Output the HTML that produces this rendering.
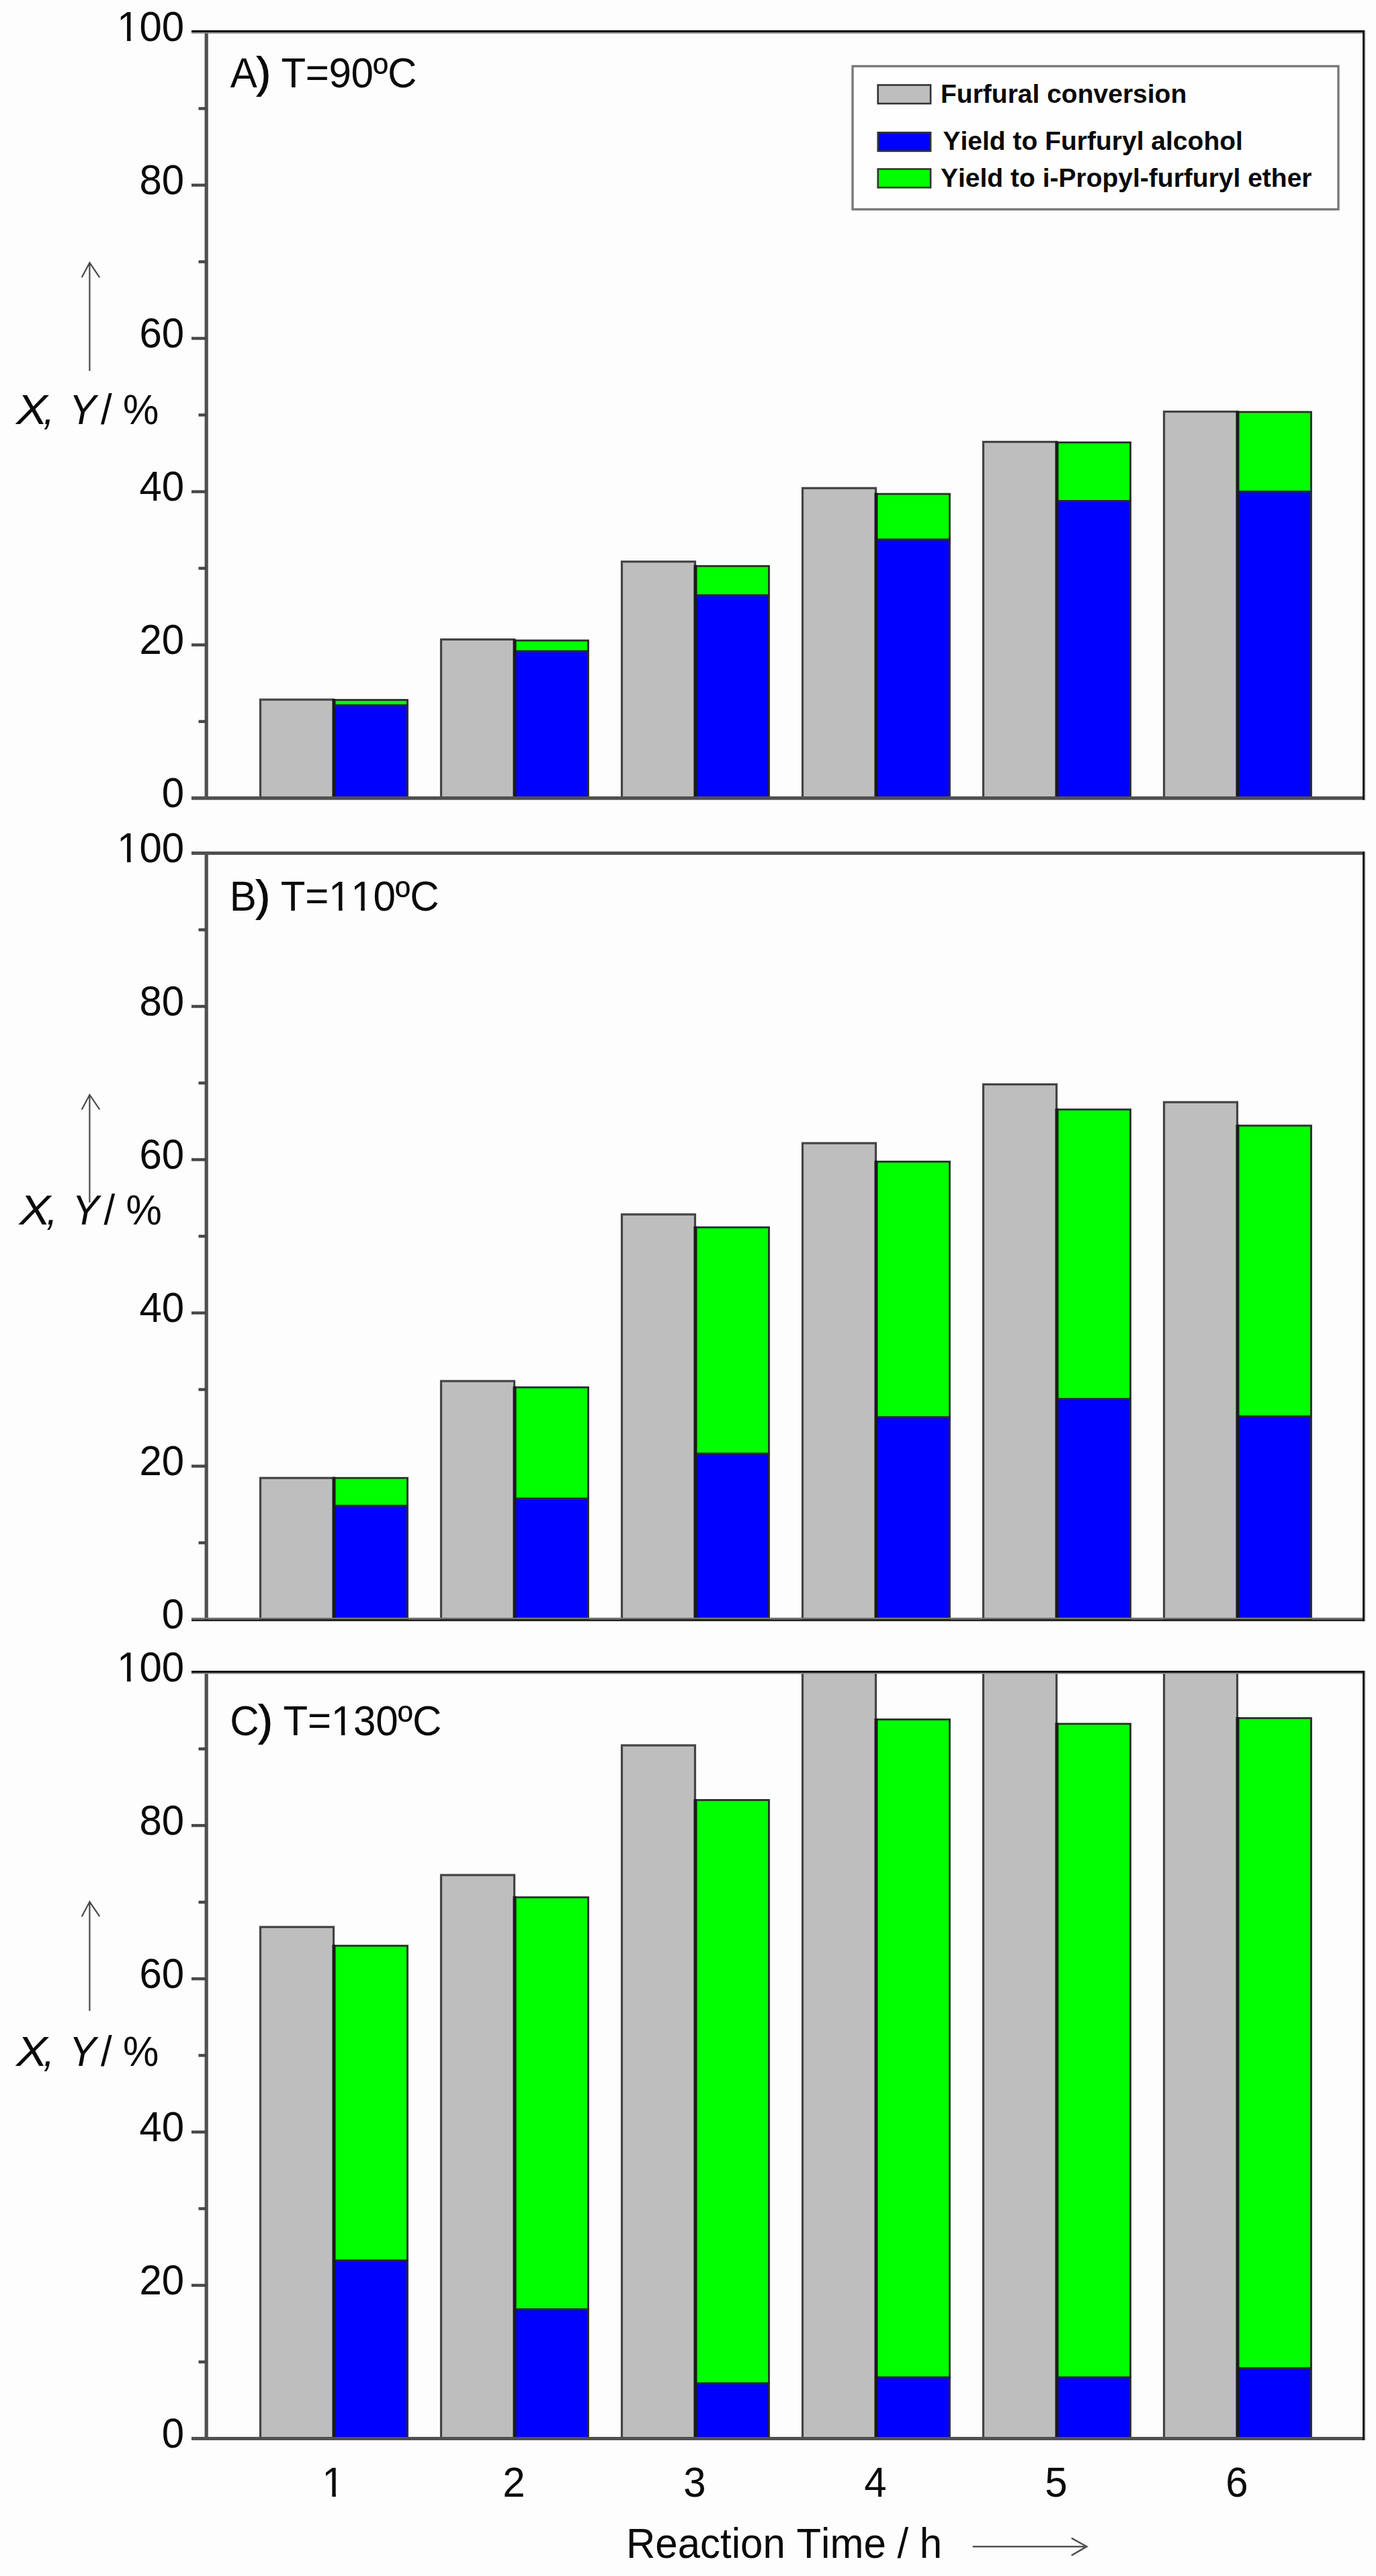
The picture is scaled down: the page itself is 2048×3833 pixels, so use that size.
<!DOCTYPE html>
<html lang="en"><head><meta charset="utf-8"><title>Furfural conversion and yields</title>
<style>html,body{margin:0;padding:0;background:#fdfdfd}svg{display:block}text{font-family:"Liberation Sans",Arial,sans-serif;fill:#0a0a0a;font-kerning:none}.t{font-size:60px}.lg{font-size:39px;font-weight:bold}</style></head><body>
<svg width="2048" height="3833" viewBox="0 0 2048 3833">
<rect width="2048" height="3833" fill="#fdfdfd"/>
<g id="panelA">
<clipPath id="cp0"><rect x="307.2" y="47.5" width="1722.8" height="1143.1"/></clipPath>
<g clip-path="url(#cp0)" stroke="#2b2b2b" stroke-width="2.8">
<rect x="387.5" y="1041.0" width="109.0" height="146.6" fill="#bebebe" stroke="#444" stroke-width="3.2"/>
<rect x="497.5" y="1041.5" width="109.0" height="8.0" fill="#00ff00"/>
<rect x="497.5" y="1049.5" width="109.0" height="138.1" fill="#0000ff"/>
<line x1="497.0" y1="1040.0" x2="497.0" y2="1187.6" stroke="#1a1a1a" stroke-width="5"/>
<rect x="656.5" y="951.5" width="109.0" height="236.1" fill="#bebebe" stroke="#444" stroke-width="3.2"/>
<rect x="766.5" y="953.0" width="109.0" height="16.1" fill="#00ff00"/>
<rect x="766.5" y="969.1" width="109.0" height="218.5" fill="#0000ff"/>
<line x1="766.0" y1="951.5" x2="766.0" y2="1187.6" stroke="#1a1a1a" stroke-width="5"/>
<rect x="925.5" y="835.7" width="109.0" height="351.9" fill="#bebebe" stroke="#444" stroke-width="3.2"/>
<rect x="1035.5" y="842.3" width="109.0" height="43.6" fill="#00ff00"/>
<rect x="1035.5" y="885.9" width="109.0" height="301.7" fill="#0000ff"/>
<line x1="1035.0" y1="840.8" x2="1035.0" y2="1187.6" stroke="#1a1a1a" stroke-width="5"/>
<rect x="1194.5" y="726.3" width="109.0" height="461.3" fill="#bebebe" stroke="#444" stroke-width="3.2"/>
<rect x="1304.5" y="735.0" width="109.0" height="68.0" fill="#00ff00"/>
<rect x="1304.5" y="803.0" width="109.0" height="384.6" fill="#0000ff"/>
<line x1="1304.0" y1="733.5" x2="1304.0" y2="1187.6" stroke="#1a1a1a" stroke-width="5"/>
<rect x="1463.5" y="657.5" width="109.0" height="530.1" fill="#bebebe" stroke="#444" stroke-width="3.2"/>
<rect x="1573.5" y="658.3" width="109.0" height="87.2" fill="#00ff00"/>
<rect x="1573.5" y="745.5" width="109.0" height="442.1" fill="#0000ff"/>
<line x1="1573.0" y1="656.8" x2="1573.0" y2="1187.6" stroke="#1a1a1a" stroke-width="5"/>
<rect x="1732.5" y="612.5" width="109.0" height="575.1" fill="#bebebe" stroke="#444" stroke-width="3.2"/>
<rect x="1842.5" y="613.0" width="109.0" height="118.5" fill="#00ff00"/>
<rect x="1842.5" y="731.5" width="109.0" height="456.1" fill="#0000ff"/>
<line x1="1842.0" y1="611.5" x2="1842.0" y2="1187.6" stroke="#1a1a1a" stroke-width="5"/>
</g>
<line x1="307.2" y1="45.5" x2="307.2" y2="1190.1" stroke="#505050" stroke-width="5.2"/>
<line x1="285" y1="1187.6" x2="2031" y2="1187.6" stroke="#505050" stroke-width="5.2"/>
<line x1="285" y1="46.7" x2="2031" y2="46.7" stroke="#141414" stroke-width="3.2"/>
<line x1="285" y1="49.1" x2="2031" y2="49.1" stroke="#8a8a8a" stroke-width="1.8"/>
<line x1="2029.6" y1="45.1" x2="2029.6" y2="1190.1999999999998" stroke="#0c0c0c" stroke-width="3.2"/>
<line x1="2031.9" y1="45.5" x2="2031.9" y2="1190.1999999999998" stroke="#bdbdbd" stroke-width="1.6"/>
<text class="t" transform="translate(274.2,1200.8) scale(1,1.042)" text-anchor="end">0</text>
<line x1="295.5" y1="1073.6" x2="307.2" y2="1073.6" stroke="#474747" stroke-width="4.4"/>
<line x1="285" y1="959.6" x2="307.2" y2="959.6" stroke="#474747" stroke-width="4.4"/>
<text class="t" transform="translate(274.2,972.8) scale(1,1.042)" text-anchor="end">20</text>
<line x1="295.5" y1="845.6" x2="307.2" y2="845.6" stroke="#474747" stroke-width="4.4"/>
<line x1="285" y1="731.6" x2="307.2" y2="731.6" stroke="#474747" stroke-width="4.4"/>
<text class="t" transform="translate(274.2,744.8) scale(1,1.042)" text-anchor="end">40</text>
<line x1="295.5" y1="617.5" x2="307.2" y2="617.5" stroke="#474747" stroke-width="4.4"/>
<line x1="285" y1="503.5" x2="307.2" y2="503.5" stroke="#474747" stroke-width="4.4"/>
<text class="t" transform="translate(274.2,516.7) scale(1,1.042)" text-anchor="end">60</text>
<line x1="295.5" y1="389.5" x2="307.2" y2="389.5" stroke="#474747" stroke-width="4.4"/>
<line x1="285" y1="275.5" x2="307.2" y2="275.5" stroke="#474747" stroke-width="4.4"/>
<text class="t" transform="translate(274.2,288.7) scale(1,1.042)" text-anchor="end">80</text>
<line x1="295.5" y1="161.5" x2="307.2" y2="161.5" stroke="#474747" stroke-width="4.4"/>
<clipPath id="one1"><path clip-rule="evenodd" d="M-400 -90H700V40H-400ZM-96.61 -5.4H-85.11V2H-96.61ZM-79.61 -5.4H-68.61V2H-79.61Z"/></clipPath>
<text class="t" transform="translate(274.2,60.7) scale(1,1.042)" text-anchor="end" clip-path="url(#one1)">100</text>
<text class="t" transform="translate(342.8,130.1) scale(1,1.042)" letter-spacing="-0.35">A<tspan stroke="#0a0a0a" stroke-width="1.7">)</tspan> T=90ºC</text>
<text class="t" transform="translate(24.0,631.0) scale(1.17,1.042)" font-style="italic">X</text>
<text class="t" transform="translate(0.0,631.0) scale(1,1.042)"><tspan font-style="italic" x="64.5">,</tspan><tspan font-style="italic" x="103">Y</tspan><tspan x="150">/</tspan><tspan x="183">%</tspan></text>
<path d="M133.4 551.9V390.9M121.7 412.8L133.4 390.9L148.3 412.8" fill="none" stroke="#4a4a4a" stroke-width="2.2"/>
</g>
<g id="panelB">
<clipPath id="cp1"><rect x="307.2" y="1269.5" width="1722.8" height="1143.1"/></clipPath>
<g clip-path="url(#cp1)" stroke="#2b2b2b" stroke-width="2.8">
<rect x="387.5" y="2199.2" width="109.0" height="210.4" fill="#bebebe" stroke="#444" stroke-width="3.2"/>
<rect x="497.5" y="2199.2" width="109.0" height="41.3" fill="#00ff00"/>
<rect x="497.5" y="2240.5" width="109.0" height="169.1" fill="#0000ff"/>
<line x1="497.0" y1="2197.7" x2="497.0" y2="2409.6" stroke="#1a1a1a" stroke-width="5"/>
<rect x="656.5" y="2055.0" width="109.0" height="354.6" fill="#bebebe" stroke="#444" stroke-width="3.2"/>
<rect x="766.5" y="2064.3" width="109.0" height="165.7" fill="#00ff00"/>
<rect x="766.5" y="2230.0" width="109.0" height="179.6" fill="#0000ff"/>
<line x1="766.0" y1="2062.8" x2="766.0" y2="2409.6" stroke="#1a1a1a" stroke-width="5"/>
<rect x="925.5" y="1807.0" width="109.0" height="602.6" fill="#bebebe" stroke="#444" stroke-width="3.2"/>
<rect x="1035.5" y="1826.2" width="109.0" height="336.9" fill="#00ff00"/>
<rect x="1035.5" y="2163.1" width="109.0" height="246.5" fill="#0000ff"/>
<line x1="1035.0" y1="1824.7" x2="1035.0" y2="2409.6" stroke="#1a1a1a" stroke-width="5"/>
<rect x="1194.5" y="1701.0" width="109.0" height="708.6" fill="#bebebe" stroke="#444" stroke-width="3.2"/>
<rect x="1304.5" y="1728.5" width="109.0" height="380.4" fill="#00ff00"/>
<rect x="1304.5" y="2108.9" width="109.0" height="300.7" fill="#0000ff"/>
<line x1="1304.0" y1="1727.0" x2="1304.0" y2="2409.6" stroke="#1a1a1a" stroke-width="5"/>
<rect x="1463.5" y="1613.5" width="109.0" height="796.1" fill="#bebebe" stroke="#444" stroke-width="3.2"/>
<rect x="1573.5" y="1650.9" width="109.0" height="430.9" fill="#00ff00"/>
<rect x="1573.5" y="2081.8" width="109.0" height="327.8" fill="#0000ff"/>
<line x1="1573.0" y1="1649.4" x2="1573.0" y2="2409.6" stroke="#1a1a1a" stroke-width="5"/>
<rect x="1732.5" y="1640.0" width="109.0" height="769.6" fill="#bebebe" stroke="#444" stroke-width="3.2"/>
<rect x="1842.5" y="1674.9" width="109.0" height="432.7" fill="#00ff00"/>
<rect x="1842.5" y="2107.6" width="109.0" height="302.0" fill="#0000ff"/>
<line x1="1842.0" y1="1673.4" x2="1842.0" y2="2409.6" stroke="#1a1a1a" stroke-width="5"/>
</g>
<line x1="307.2" y1="1267.5" x2="307.2" y2="2412.1" stroke="#505050" stroke-width="5.2"/>
<line x1="285" y1="2408.2" x2="2031" y2="2408.2" stroke="#777" stroke-width="2.6"/>
<line x1="285" y1="2410.7999999999997" x2="2031" y2="2410.7999999999997" stroke="#1c1c1c" stroke-width="2.8"/>
<line x1="285" y1="1269.5" x2="2031" y2="1269.5" stroke="#505050" stroke-width="5.2"/>
<line x1="2029.6" y1="1267.1" x2="2029.6" y2="2412.2" stroke="#0c0c0c" stroke-width="3.2"/>
<line x1="2031.9" y1="1267.5" x2="2031.9" y2="2412.2" stroke="#bdbdbd" stroke-width="1.6"/>
<text class="t" transform="translate(274.2,2422.8) scale(1,1.042)" text-anchor="end">0</text>
<line x1="295.5" y1="2295.6" x2="307.2" y2="2295.6" stroke="#474747" stroke-width="4.4"/>
<line x1="285" y1="2181.6" x2="307.2" y2="2181.6" stroke="#474747" stroke-width="4.4"/>
<text class="t" transform="translate(274.2,2194.8) scale(1,1.042)" text-anchor="end">20</text>
<line x1="295.5" y1="2067.6" x2="307.2" y2="2067.6" stroke="#474747" stroke-width="4.4"/>
<line x1="285" y1="1953.6" x2="307.2" y2="1953.6" stroke="#474747" stroke-width="4.4"/>
<text class="t" transform="translate(274.2,1966.8) scale(1,1.042)" text-anchor="end">40</text>
<line x1="295.5" y1="1839.5" x2="307.2" y2="1839.5" stroke="#474747" stroke-width="4.4"/>
<line x1="285" y1="1725.5" x2="307.2" y2="1725.5" stroke="#474747" stroke-width="4.4"/>
<text class="t" transform="translate(274.2,1738.7) scale(1,1.042)" text-anchor="end">60</text>
<line x1="295.5" y1="1611.5" x2="307.2" y2="1611.5" stroke="#474747" stroke-width="4.4"/>
<line x1="285" y1="1497.5" x2="307.2" y2="1497.5" stroke="#474747" stroke-width="4.4"/>
<text class="t" transform="translate(274.2,1510.7) scale(1,1.042)" text-anchor="end">80</text>
<line x1="295.5" y1="1383.5" x2="307.2" y2="1383.5" stroke="#474747" stroke-width="4.4"/>
<clipPath id="one2"><path clip-rule="evenodd" d="M-400 -90H700V40H-400ZM-96.61 -5.4H-85.11V2H-96.61ZM-79.61 -5.4H-68.61V2H-79.61Z"/></clipPath>
<text class="t" transform="translate(274.2,1282.7) scale(1,1.042)" text-anchor="end" clip-path="url(#one2)">100</text>
<clipPath id="one3"><path clip-rule="evenodd" d="M-400 -90H700V40H-400ZM150.86 -5.4H162.36V2H150.86ZM167.86 -5.4H178.86V2H167.86ZM184.03 -5.4H195.53V2H184.03ZM201.03 -5.4H212.03V2H201.03Z"/></clipPath>
<text class="t" transform="translate(341.7,1354.5) scale(1,1.042)" letter-spacing="-0.2" clip-path="url(#one3)">B<tspan stroke="#0a0a0a" stroke-width="1.7">)</tspan> T=110ºC</text>
<text class="t" transform="translate(28.4,1821.6) scale(1.17,1.042)" font-style="italic">X</text>
<text class="t" transform="translate(4.4,1821.6) scale(1,1.042)"><tspan font-style="italic" x="64.5">,</tspan><tspan font-style="italic" x="103">Y</tspan><tspan x="150">/</tspan><tspan x="183">%</tspan></text>
<path d="M133.4 1789.3V1629.0M121.7 1650.9L133.4 1629.0L148.3 1650.9" fill="none" stroke="#4a4a4a" stroke-width="2.2"/>
</g>
<g id="panelC">
<clipPath id="cp2"><rect x="307.2" y="2488.3" width="1722.8" height="1143.1999999999998"/></clipPath>
<g clip-path="url(#cp2)" stroke="#2b2b2b" stroke-width="2.8">
<rect x="387.5" y="2867.3" width="109.0" height="761.2" fill="#bebebe" stroke="#444" stroke-width="3.2"/>
<rect x="497.5" y="2895.2" width="109.0" height="468.3" fill="#00ff00"/>
<rect x="497.5" y="3363.5" width="109.0" height="265.0" fill="#0000ff"/>
<line x1="497.0" y1="2893.7" x2="497.0" y2="3628.5" stroke="#1a1a1a" stroke-width="5"/>
<rect x="656.5" y="2790.0" width="109.0" height="838.5" fill="#bebebe" stroke="#444" stroke-width="3.2"/>
<rect x="766.5" y="2823.1" width="109.0" height="613.1" fill="#00ff00"/>
<rect x="766.5" y="3436.2" width="109.0" height="192.3" fill="#0000ff"/>
<line x1="766.0" y1="2821.6" x2="766.0" y2="3628.5" stroke="#1a1a1a" stroke-width="5"/>
<rect x="925.5" y="2597.0" width="109.0" height="1031.5" fill="#bebebe" stroke="#444" stroke-width="3.2"/>
<rect x="1035.5" y="2678.4" width="109.0" height="867.9" fill="#00ff00"/>
<rect x="1035.5" y="3546.3" width="109.0" height="82.2" fill="#0000ff"/>
<line x1="1035.0" y1="2676.9" x2="1035.0" y2="3628.5" stroke="#1a1a1a" stroke-width="5"/>
<rect x="1194.5" y="2481.5" width="109.0" height="1147.0" fill="#bebebe" stroke="#444" stroke-width="3.2"/>
<rect x="1304.5" y="2558.5" width="109.0" height="979.0" fill="#00ff00"/>
<rect x="1304.5" y="3537.5" width="109.0" height="91.0" fill="#0000ff"/>
<line x1="1304.0" y1="2557.0" x2="1304.0" y2="3628.5" stroke="#1a1a1a" stroke-width="5"/>
<rect x="1463.5" y="2481.5" width="109.0" height="1147.0" fill="#bebebe" stroke="#444" stroke-width="3.2"/>
<rect x="1573.5" y="2565.0" width="109.0" height="972.5" fill="#00ff00"/>
<rect x="1573.5" y="3537.5" width="109.0" height="91.0" fill="#0000ff"/>
<line x1="1573.0" y1="2563.5" x2="1573.0" y2="3628.5" stroke="#1a1a1a" stroke-width="5"/>
<rect x="1732.5" y="2481.5" width="109.0" height="1147.0" fill="#bebebe" stroke="#444" stroke-width="3.2"/>
<rect x="1842.5" y="2556.5" width="109.0" height="967.4" fill="#00ff00"/>
<rect x="1842.5" y="3523.9" width="109.0" height="104.6" fill="#0000ff"/>
<line x1="1842.0" y1="2555.0" x2="1842.0" y2="3628.5" stroke="#1a1a1a" stroke-width="5"/>
</g>
<line x1="307.2" y1="2486.3" x2="307.2" y2="3631.0" stroke="#505050" stroke-width="5.2"/>
<line x1="285" y1="3628.5" x2="2031" y2="3628.5" stroke="#505050" stroke-width="5.2"/>
<line x1="285" y1="2487.5" x2="2031" y2="2487.5" stroke="#141414" stroke-width="3.2"/>
<line x1="285" y1="2489.9" x2="2031" y2="2489.9" stroke="#8a8a8a" stroke-width="1.8"/>
<line x1="2029.6" y1="2485.9" x2="2029.6" y2="3631.1" stroke="#0c0c0c" stroke-width="3.2"/>
<line x1="2031.9" y1="2486.3" x2="2031.9" y2="3631.1" stroke="#bdbdbd" stroke-width="1.6"/>
<text class="t" transform="translate(274.2,3641.7) scale(1,1.042)" text-anchor="end">0</text>
<line x1="295.5" y1="3514.5" x2="307.2" y2="3514.5" stroke="#474747" stroke-width="4.4"/>
<line x1="285" y1="3400.5" x2="307.2" y2="3400.5" stroke="#474747" stroke-width="4.4"/>
<text class="t" transform="translate(274.2,3413.7) scale(1,1.042)" text-anchor="end">20</text>
<line x1="295.5" y1="3286.4" x2="307.2" y2="3286.4" stroke="#474747" stroke-width="4.4"/>
<line x1="285" y1="3172.4" x2="307.2" y2="3172.4" stroke="#474747" stroke-width="4.4"/>
<text class="t" transform="translate(274.2,3185.6) scale(1,1.042)" text-anchor="end">40</text>
<line x1="295.5" y1="3058.4" x2="307.2" y2="3058.4" stroke="#474747" stroke-width="4.4"/>
<line x1="285" y1="2944.4" x2="307.2" y2="2944.4" stroke="#474747" stroke-width="4.4"/>
<text class="t" transform="translate(274.2,2957.6) scale(1,1.042)" text-anchor="end">60</text>
<line x1="295.5" y1="2830.4" x2="307.2" y2="2830.4" stroke="#474747" stroke-width="4.4"/>
<line x1="285" y1="2716.3" x2="307.2" y2="2716.3" stroke="#474747" stroke-width="4.4"/>
<text class="t" transform="translate(274.2,2729.5) scale(1,1.042)" text-anchor="end">80</text>
<line x1="295.5" y1="2602.3" x2="307.2" y2="2602.3" stroke="#474747" stroke-width="4.4"/>
<clipPath id="one4"><path clip-rule="evenodd" d="M-400 -90H700V40H-400ZM-96.61 -5.4H-85.11V2H-96.61ZM-79.61 -5.4H-68.61V2H-79.61Z"/></clipPath>
<text class="t" transform="translate(274.2,2501.5) scale(1,1.042)" text-anchor="end" clip-path="url(#one4)">100</text>
<clipPath id="one5"><path clip-rule="evenodd" d="M-400 -90H700V40H-400ZM154.17 -5.4H165.67V2H154.17ZM171.17 -5.4H182.17V2H171.17Z"/></clipPath>
<text class="t" transform="translate(342.2,2581.7) scale(1,1.042)" letter-spacing="-0.2" clip-path="url(#one5)">C<tspan stroke="#0a0a0a" stroke-width="1.7">)</tspan> T=130ºC</text>
<text class="t" transform="translate(24.0,3074.3) scale(1.17,1.042)" font-style="italic">X</text>
<text class="t" transform="translate(0.0,3074.3) scale(1,1.042)"><tspan font-style="italic" x="64.5">,</tspan><tspan font-style="italic" x="103">Y</tspan><tspan x="150">/</tspan><tspan x="183">%</tspan></text>
<path d="M133.4 2992.3V2829.8M121.7 2851.7L133.4 2829.8L148.3 2851.7" fill="none" stroke="#4a4a4a" stroke-width="2.2"/>
</g>
<clipPath id="one6"><path clip-rule="evenodd" d="M-400 -90H700V40H-400ZM-13.18 -5.4H-1.68V2H-13.18ZM3.82 -5.4H14.82V2H3.82Z"/></clipPath>
<text class="t" transform="translate(496.0,3715.2) scale(1,1.042)" text-anchor="middle" clip-path="url(#one6)">1</text>
<text class="t" transform="translate(765.0,3715.2) scale(1,1.042)" text-anchor="middle">2</text>
<text class="t" transform="translate(1034.0,3715.2) scale(1,1.042)" text-anchor="middle">3</text>
<text class="t" transform="translate(1303.0,3715.2) scale(1,1.042)" text-anchor="middle">4</text>
<text class="t" transform="translate(1572.0,3715.2) scale(1,1.042)" text-anchor="middle">5</text>
<text class="t" transform="translate(1841.0,3715.2) scale(1,1.042)" text-anchor="middle">6</text>
<text class="t" transform="translate(932.0,3805.8) scale(1,1.042)">Reaction Time / h</text>
<path d="M1447.7 3789.2H1617M1594.8 3776.7L1617.4 3789.2L1594.8 3802.3" fill="none" stroke="#555" stroke-width="2.6"/>
<g id="legend">
<rect x="1269" y="98.5" width="723" height="213" fill="#fefefe" stroke="#7a7a7a" stroke-width="3.4"/>
<rect x="1306.7" y="126.5" width="78.4" height="27.6" fill="#bebebe" stroke="#333" stroke-width="2.6"/>
<rect x="1306.7" y="197.2" width="78.4" height="27.6" fill="#0000ff" stroke="#333" stroke-width="2.6"/>
<rect x="1306.7" y="251.5" width="78.4" height="27.6" fill="#00ff00" stroke="#333" stroke-width="2.6"/>
<text class="lg" transform="translate(1400.0,152.8) scale(1,1.0)">Furfural conversion</text>
<text class="lg" transform="translate(1403.5,223.0) scale(1,1.0)">Yield to Furfuryl alcohol</text>
<text class="lg" transform="translate(1400.0,277.8) scale(1,1.0)">Yield to i-Propyl-furfuryl ether</text>
</g>
</svg></body></html>
